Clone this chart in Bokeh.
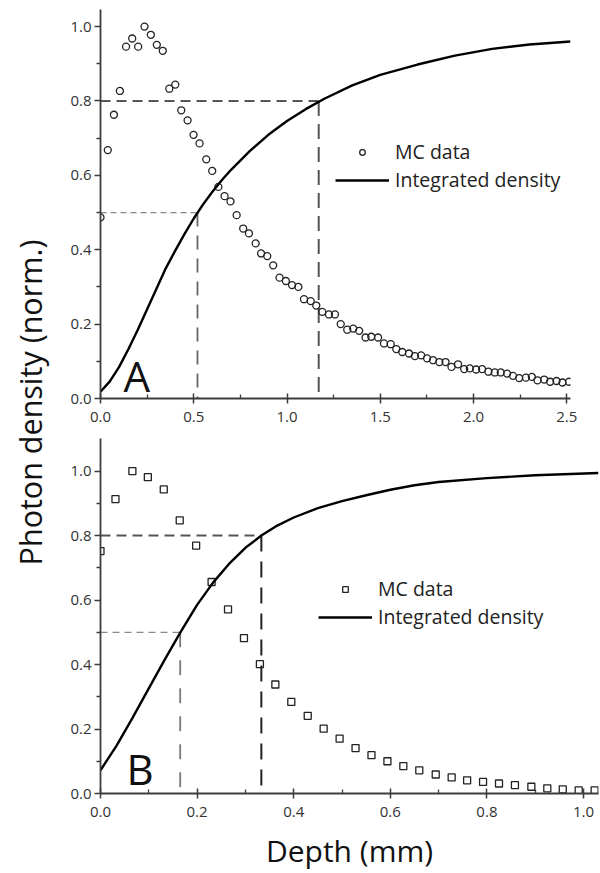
import math
from bokeh.plotting import figure
from bokeh.models import Range1d, Label, Legend, LegendItem, FixedTicker, NumeralTickFormatter
from bokeh.layouts import row, column
from bokeh.embed import file_html
from bokeh.resources import INLINE

FONT = "Open Sans"

# ---------------- data: panel A ----------------
top_mc_x = [0.000, 0.039, 0.072, 0.104, 0.137, 0.170, 0.202, 0.236, 0.270, 0.302,
            0.334, 0.369, 0.401, 0.433, 0.467, 0.499, 0.531, 0.567, 0.599, 0.632,
            0.665, 0.697, 0.730, 0.765, 0.796,
            0.832, 0.861, 0.894, 0.926, 0.960, 0.994, 1.027, 1.061, 1.091, 1.127,
            1.157, 1.189, 1.225, 1.257, 1.288, 1.323, 1.355, 1.387, 1.421, 1.452,
            1.488, 1.520, 1.556, 1.586, 1.618, 1.654, 1.686, 1.719, 1.751, 1.783,
            1.817, 1.850, 1.882, 1.917, 1.950, 1.980, 2.014, 2.046, 2.080, 2.114,
            2.146, 2.180, 2.212, 2.245, 2.281, 2.313, 2.343, 2.379, 2.411, 2.445,
            2.477, 2.512]
top_mc_y = [0.487, 0.668, 0.763, 0.827, 0.946, 0.968, 0.946, 1.000, 0.978, 0.951,
            0.935, 0.833, 0.844, 0.775, 0.748, 0.709, 0.686, 0.643, 0.612, 0.569,
            0.544, 0.530, 0.493, 0.457, 0.444,
            0.417, 0.390, 0.383, 0.358, 0.325, 0.316, 0.305, 0.300, 0.267, 0.262,
            0.250, 0.233, 0.226, 0.226, 0.200, 0.185, 0.188, 0.182, 0.164, 0.166,
            0.164, 0.148, 0.146, 0.133, 0.125, 0.121, 0.114, 0.116, 0.108, 0.103,
            0.098, 0.098, 0.085, 0.092, 0.079, 0.081, 0.078, 0.079, 0.072, 0.070,
            0.070, 0.067, 0.061, 0.055, 0.056, 0.058, 0.049, 0.051, 0.045, 0.047,
            0.043, 0.045]
top_int_x = [0.0, 0.05, 0.10, 0.15, 0.20, 0.25, 0.30, 0.35, 0.40, 0.45, 0.50, 0.55,
             0.60, 0.65, 0.70, 0.80, 0.90, 1.00, 1.10, 1.20, 1.35, 1.50, 1.70, 1.90,
             2.10, 2.30, 2.52]
top_int_y = [0.018, 0.046, 0.085, 0.133, 0.185, 0.240, 0.295, 0.350, 0.397, 0.442,
             0.484, 0.522, 0.556, 0.587, 0.615, 0.665, 0.709, 0.746, 0.778, 0.806,
             0.842, 0.870, 0.898, 0.922, 0.940, 0.952, 0.960]
top_levels = [0.5, 0.8]
top_cross = [0.52, 1.17]
top_xticks = [0.0, 0.5, 1.0, 1.5, 2.0, 2.5]
top_xminor = [0.25, 0.75, 1.25, 1.75, 2.25]

# ---------------- data: panel B ----------------
bot_mc_x = [0.000, 0.031, 0.066, 0.098, 0.131, 0.164, 0.198, 0.230, 0.264, 0.297,
            0.330, 0.362, 0.395, 0.429, 0.462, 0.495, 0.528, 0.561, 0.594, 0.627,
            0.660, 0.694, 0.727, 0.759, 0.792, 0.825, 0.858, 0.892, 0.925, 0.957,
            0.990, 1.023]
bot_mc_y = [0.752, 0.913, 1.000, 0.981, 0.943, 0.847, 0.769, 0.656, 0.571, 0.482,
            0.401, 0.338, 0.284, 0.241, 0.201, 0.170, 0.141, 0.119, 0.100, 0.085,
            0.072, 0.059, 0.050, 0.041, 0.036, 0.031, 0.026, 0.021, 0.016, 0.013,
            0.010, 0.010]
bot_int_x = [0.0, 0.033, 0.066, 0.10, 0.133, 0.166, 0.20, 0.233, 0.266, 0.30, 0.333,
             0.366, 0.40, 0.45, 0.50, 0.55, 0.60, 0.65, 0.70, 0.80, 0.90, 1.031]
bot_int_y = [0.072, 0.148, 0.234, 0.326, 0.415, 0.501, 0.585, 0.654, 0.712, 0.762,
             0.800, 0.831, 0.856, 0.885, 0.907, 0.925, 0.942, 0.956, 0.966, 0.978,
             0.987, 0.994]
bot_levels = [0.5, 0.8]
bot_cross = [0.165, 0.333]
bot_xticks = [0.0, 0.2, 0.4, 0.6, 0.8, 1.0]
bot_xminor = [0.1, 0.3, 0.5, 0.7, 0.9]

yticks = [0.0, 0.2, 0.4, 0.6, 0.8, 1.0]
yminor = [0.1, 0.3, 0.5, 0.7, 0.9]

AX = "#3c3c3c"


def make_fig(fw, fh, xr, yr, xt, xm, top, bottom, right):
    p = figure(frame_width=fw, frame_height=fh, x_range=Range1d(*xr), y_range=Range1d(*yr),
               output_backend="svg", toolbar_location=None,
               min_border_left=45, min_border_top=top, min_border_bottom=bottom,
               min_border_right=right)
    p.grid.visible = False
    p.outline_line_color = None
    p.background_fill_color = "white"
    p.border_fill_color = "white"
    p.xaxis.ticker = FixedTicker(ticks=xt, minor_ticks=xm)
    p.yaxis.ticker = FixedTicker(ticks=yticks, minor_ticks=yminor)
    p.axis.formatter = NumeralTickFormatter(format="0.0")
    p.axis.axis_line_color = AX
    p.axis.axis_line_width = 1.8
    p.axis.major_tick_line_color = AX
    p.axis.major_tick_line_width = 1.5
    p.axis.minor_tick_line_color = AX
    p.axis.minor_tick_line_width = 1.3
    p.xaxis.major_tick_in = 5
    p.xaxis.major_tick_out = 5
    p.xaxis.minor_tick_in = 4
    p.xaxis.minor_tick_out = 0
    p.yaxis.major_tick_in = 0
    p.yaxis.major_tick_out = 6
    p.yaxis.minor_tick_in = 0
    p.yaxis.minor_tick_out = 4
    p.axis.major_label_text_font = FONT
    p.axis.major_label_text_font_size = "15px"
    p.axis.major_label_text_color = "#333333"
    p.xaxis.major_label_standoff = 8
    p.yaxis.major_label_standoff = 3
    return p


def ref_lines(p, levels, cross, styles):
    for lev, cx, st in zip(levels, cross, styles):
        p.line([0, cx], [lev, lev], line_color=st[0], line_width=st[1], line_dash=st[2])
        p.line([cx, cx], [lev, 0], line_color=st[3], line_width=st[4], line_dash=st[5])


def legend(p, sc, ln, loc):
    leg = Legend(items=[LegendItem(label="MC data", renderers=[sc]),
                        LegendItem(label="Integrated density", renderers=[ln])],
                 location=loc, glyph_width=54, glyph_height=14, label_standoff=6,
                 spacing=1, padding=0, margin=0, border_line_color=None,
                 background_fill_alpha=0, label_text_font=FONT,
                 label_text_font_size="19.5px", label_text_color="#222222")
    p.add_layout(leg)


# ---------------- panel A ----------------
p1 = make_fig(470, 389, (0, 2.52), (0, 1.046), top_xticks, top_xminor, 9, 34, 20)
ref_lines(p1, top_levels, top_cross,
          [("#888888", 1.3, "6 4", "#666666", 1.8, "14 9"),
           ("#555555", 2.0, "10 6", "#555555", 2.0, "15 8")])
sc1 = p1.scatter(top_mc_x, top_mc_y, marker="circle", size=7, fill_color=None,
                 line_color="#222222", line_width=1.3)
ln1 = p1.line(top_int_x, top_int_y, line_color="black", line_width=2.4)
legend(p1, sc1, ln1, (235, 205))
p1.add_layout(Label(x=0.123, y=0.063, text="A", text_font=FONT, text_font_size="42px",
                    text_baseline="alphabetic", text_color="#111111"))

# ---------------- panel B ----------------
p2 = make_fig(498, 355, (0, 1.031), (0, 1.101), bot_xticks, bot_xminor, 6, 80, 2)
ref_lines(p2, bot_levels, bot_cross,
          [("#888888", 1.3, "7 5", "#777777", 1.8, "15 13"),
           ("#555555", 2.0, "10 6", "#222222", 2.0, "16 10")])
sc2 = p2.scatter(bot_mc_x, bot_mc_y, marker="square", size=7, fill_color=None,
                 line_color="#222222", line_width=1.3)
ln2 = p2.line(bot_int_x, bot_int_y, line_color="black", line_width=2.4)
legend(p2, sc2, ln2, (218, 163))
p2.add_layout(Label(x=0.054, y=0.077, text="B", text_font=FONT, text_font_size="42px",
                    text_baseline="alphabetic", text_color="#111111"))
p2.xaxis.axis_label = "Depth (mm)"
p2.xaxis.axis_label_text_font = FONT
p2.xaxis.axis_label_text_font_size = "30px"
p2.xaxis.axis_label_text_font_style = "normal"
p2.xaxis.axis_label_text_color = "#111111"
p2.xaxis.axis_label_standoff = 10

# ---------------- shared y label ----------------
pl = figure(width=55, height=873, x_range=Range1d(0, 1), y_range=Range1d(0, 1),
            output_backend="svg", toolbar_location=None, min_border=0,
            x_axis_location=None, y_axis_location=None)
pl.grid.visible = False
pl.outline_line_color = None
pl.add_layout(Label(x=29, y=471, x_units="screen", y_units="screen",
                    text="Photon density (norm.)", angle=math.pi / 2,
                    text_align="center", text_baseline="middle", text_font=FONT,
                    text_font_size="30.5px", text_color="#111111"))

layout = row(pl, column(p1, p2))
open("out.html", "w").write(file_html(layout, INLINE))
